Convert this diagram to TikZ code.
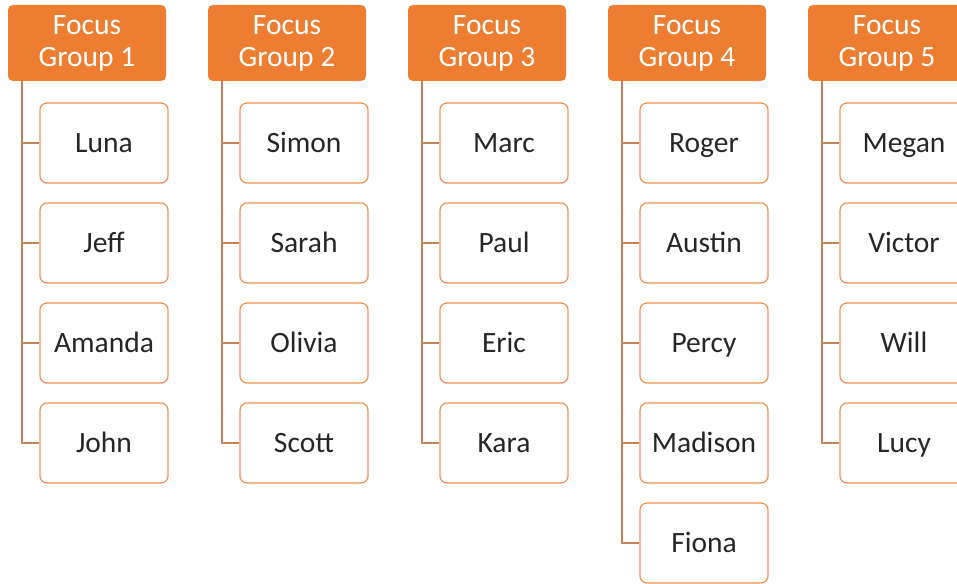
\documentclass[tikz,border=0pt]{standalone}
\usepackage{fontspec}
\setmainfont{Carlito}
\usetikzlibrary{positioning}

\begin{document}
\begin{tikzpicture}[x=1pt,y=-1pt,
    head/.style={fill=orangea,rounded corners=5pt,minimum width=158pt,minimum height=76pt,
      inner sep=0pt,align=center,text=white,font=\fontsize{29.5}{32}\selectfont},
    member/.style={draw=orangeb,line width=1.2pt,fill=white,rounded corners=7pt,
      minimum width=128pt,minimum height=80pt,inner sep=0pt,text=textgray,
      text height=21pt,text depth=3pt,font=\fontsize{29.5}{32}\selectfont},
    link/.style={draw=linka,line width=1.6pt}]
    \definecolor{orangea}{HTML}{ED7D31}
    \definecolor{orangeb}{HTML}{F0914F}
    \definecolor{linka}{HTML}{C4825A}
    \definecolor{textgray}{HTML}{262626}
    \useasboundingbox (0,0) rectangle (957,583);
    % one column per group: header, trunk line, members
    \foreach \g/\names in {1/{Luna,Jeff,Amanda,John},
                           2/{Simon,Sarah,Olivia,Scott},
                           3/{Marc,Paul,Eric,Kara},
                           4/{Roger,Austin,Percy,Madison,Fiona},
                           5/{Megan,Victor,Will,Lucy}} {
      \node[head] (G\g) at ({87+200*(\g-1)},43) {Focus\\Group \g};
      \coordinate (T\g) at ([xshift=-65pt]G\g.south);
      \foreach \n [count=\k] in \names {
        \node[member] (G\g-\k) at ({104+200*(\g-1)},{43+100*\k}) {\n};
        \draw[link] (T\g) |- (G\g-\k.west);
      }
    }
\end{tikzpicture}
\end{document}
